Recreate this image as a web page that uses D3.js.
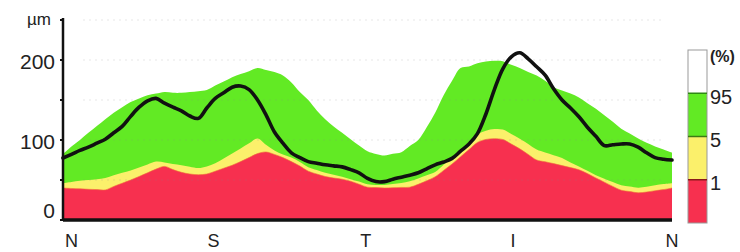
<!DOCTYPE html>
<html><head><meta charset="utf-8">
<script src="https://cdn.jsdelivr.net/npm/d3@7"></script>
<style>html,body{margin:0;padding:0;background:#fff;overflow:hidden}svg{display:block}</style>
</head><body><svg id="c" width="740" height="252"></svg>
<script>
// TSNIT angles (degrees), sampled every 5°
const angles = d3.range(0, 361, 5);
// measured RNFL thickness (µm)
const measured = [77.5,82,87,91,96,101,109,117,129.5,141,149,152,146,141,136.5,130,127,140,152,159,166,167.5,163,150,131.5,110,96,84,78,73,71,69,67.7,66.4,63,59,52,48,48,51,53.5,56,59,64,69,72.5,77,86,95,108,132.5,163,189,204,209,201.5,191.5,181,164,150,140,129,116,104.6,93,94,95,95,91,84,78,76,75];
// normative percentiles (µm)
const p95 = [82.5,92,100,109,117.5,126,134,141,147.5,152,156,158,160,159,159,160,161,162.5,168,173,178.5,182.5,186,190,187.5,185,180.7,172,160,150,137,126,117,109,101,93,86,82.6,80.6,82.7,84.8,92.5,100,116,134,156,174,190,192,196,198,199,198.5,194,190,185,180.5,174,166,162,158,153,146,139,131,122.7,114,108,102,96.5,92,88,84];
const p5 = [46,47.5,49,50,51,52.5,56,59,62,65.5,69.4,73,72,70,68.5,66.6,65,67,71,77,83,89.5,96,102,94,87,82,78,72.5,66,62.5,59,56.6,54,51,48,44.6,43.75,43.75,45,46.4,48.4,52,56,60,69,78.5,87.7,97.5,107,111.5,113.6,113,107.5,101.5,95,88,84.4,81,77.5,72,67,61.6,56,51.6,47.4,43.5,42,40.4,41.5,43.4,45,46];
const p1 = [40,39.4,39,38.4,38,37.6,42,46,50,54.4,59,63.6,67,63,59.6,57.5,56.6,57.5,61,64.7,68.4,73,78,83,85,82,78,73,67.5,61,57.5,54.4,52.5,51,48.4,44.75,41,40.6,40,40.4,40.75,41,44.6,49,54,62,70,79,88,97,100.7,101.7,100.6,95,89,82,75,72.8,70.5,68,65.5,62.8,58,52.5,47.3,42,37.25,35.6,34,35,36.6,38,40];

const yTickLabels = [0, 100, 200];
const yTickMarks = [0, 50, 100, 150, 200, 250];
const gridValues = [50, 100, 150, 200, 250];
const sectorLabels = ["N", "S", "T", "I", "N"];
const sectorAngles = [5, 89, 179, 266, 360];
const legendLabels = ["(%)", "95", "5", "1"];

const RED = "#f7304f", YELLOW = "#fbf06b", GREEN = "#62ea24";
const legendColors = ["#ffffff", GREEN, YELLOW, RED];
const legendEdges = [null, "#2f8a14", "#3d7a14", "#8a1a1a"];

const svg = d3.select("#c");
const x = d3.scaleLinear().domain([0, 360]).range([63, 672]);
const y = d3.scaleLinear().domain([0, 250]).range([220, 20]);
const font = "'Liberation Sans', Arial, Helvetica, sans-serif";
const curve = d3.curveCatmullRom.alpha(0.5);

function area(vals) {
  return d3.area().x((d, i) => x(angles[i])).y0(y(0)).y1(d => y(d)).curve(curve)(vals);
}
function line(vals) {
  return d3.line().x((d, i) => x(angles[i])).y(d => y(d)).curve(curve)(vals);
}
svg.append("path").attr("d", area(p95)).attr("fill", GREEN);
svg.append("path").attr("d", area(p5)).attr("fill", YELLOW);
svg.append("path").attr("d", area(p1)).attr("fill", RED);
svg.append("path").attr("d", line(p1))
  .attr("fill", "none").attr("stroke", "#f06a3c").attr("stroke-width", 1).attr("opacity", 0.6);

// faint dotted grid
svg.append("g").selectAll("line").data(gridValues).join("line")
  .attr("x1", x(0) + 20).attr("x2", x(360) - 10)
  .attr("y1", d => y(d)).attr("y2", d => y(d))
  .attr("stroke", "#888").attr("stroke-opacity", 0.2)
  .attr("stroke-width", 1.2).attr("stroke-dasharray", "2,4");

// measured line
svg.append("path").attr("d", line(measured))
  .attr("fill", "none").attr("stroke", "#111").attr("stroke-width", 3.6)
  .attr("stroke-linejoin", "round").attr("stroke-linecap", "round");

// baseline
svg.append("line").attr("x1", x(0)).attr("x2", x(360)).attr("y1", y(0)).attr("y2", y(0))
  .attr("stroke", "#111").attr("stroke-width", 3.5);

// y axis
svg.append("line").attr("x1", x(0)).attr("x2", x(0)).attr("y1", y(250) - 2).attr("y2", y(0) + 1)
  .attr("stroke", "#111").attr("stroke-width", 2.5);
svg.append("g").selectAll("line").data(yTickMarks).join("line")
  .attr("x1", x(0) - 3).attr("x2", x(0)).attr("y1", d => y(d)).attr("y2", d => y(d))
  .attr("stroke", "#111").attr("stroke-width", 2);
svg.append("g").selectAll("text").data(yTickLabels).join("text")
  .attr("x", x(0) - 8)
  .attr("y", d => Math.min(y(d) + 3, y(10)))
  .attr("dominant-baseline", "middle")
  .attr("text-anchor", "end").attr("font-family", font).attr("font-size", 21).attr("fill", "#222")
  .text(d => d);
svg.append("text").attr("x", x(0) - 12).attr("y", y(250) + 1).attr("dominant-baseline", "middle")
  .attr("text-anchor", "end").attr("font-family", font).attr("font-size", 17).attr("fill", "#222")
  .text("µm");

// x sector labels
svg.append("g").selectAll("text").data(sectorLabels).join("text")
  .attr("x", (d, i) => x(sectorAngles[i])).attr("y", 247)
  .attr("text-anchor", "middle").attr("font-family", font).attr("font-size", 18).attr("fill", "#222")
  .text(d => d);

// legend
const ly = d3.scaleBand().domain(legendLabels).range([50, 223]).padding(0);
const lg = svg.append("g");
lg.selectAll("rect").data(legendLabels).join("rect")
  .attr("x", 688).attr("width", 19)
  .attr("y", d => ly(d)).attr("height", ly.bandwidth())
  .attr("fill", (d, i) => legendColors[i]);
lg.append("rect").attr("x", 688).attr("y", 50).attr("width", 19).attr("height", 173)
  .attr("fill", "none").attr("stroke", "#999").attr("stroke-width", 1);
lg.selectAll("line").data(legendLabels.slice(1)).join("line")
  .attr("x1", 688).attr("x2", 707)
  .attr("y1", d => ly(d)).attr("y2", d => ly(d))
  .attr("stroke", (d, i) => legendEdges[i + 1]).attr("stroke-width", 1.5);
lg.selectAll("text").data(legendLabels).join("text")
  .attr("x", 710).attr("y", (d, i) => i === 0 ? ly(d) + 8 : ly(d) + 5)
  .attr("dominant-baseline", "middle")
  .attr("font-family", font)
  .attr("font-size", (d, i) => i === 0 ? 16 : 20)
  .attr("font-weight", (d, i) => i === 0 ? "bold" : "normal")
  .attr("fill", "#222").text(d => d);
</script></body></html>
